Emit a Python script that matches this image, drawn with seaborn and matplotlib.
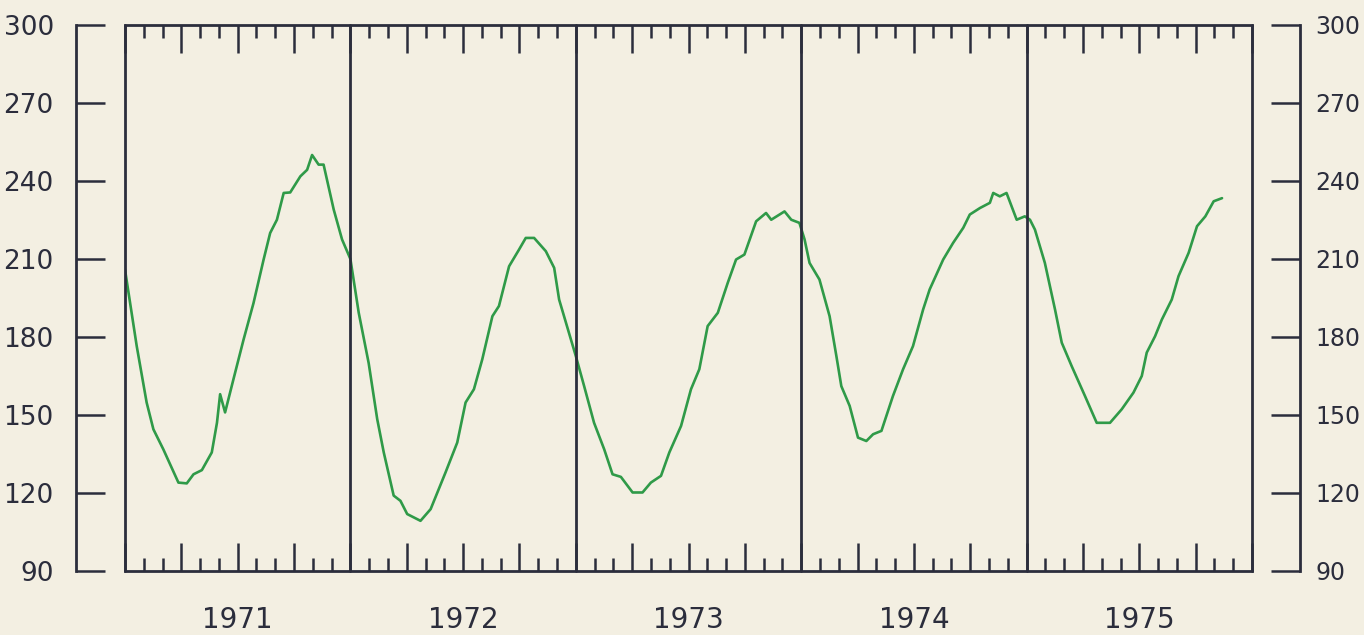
import numpy as np
import pandas as pd
import matplotlib
matplotlib.use("Agg")
import matplotlib.pyplot as plt
import seaborn as sns
from matplotlib.ticker import FixedLocator, FixedFormatter

# --- data (decimal year, value) ---
anos = [1971, 1972, 1973, 1974, 1975]

tempo = [
    1971.000, 1971.052, 1971.096, 1971.126, 1971.170, 1971.237, 1971.274, 1971.304,
    1971.341, 1971.385, 1971.408, 1971.422, 1971.444, 1971.481, 1971.526, 1971.570,
    1971.615, 1971.644, 1971.674, 1971.704, 1971.733, 1971.778, 1971.808, 1971.830,
    1971.859, 1971.881, 1971.926, 1971.963, 1972.000,
    1972.037, 1972.081, 1972.119, 1972.148, 1972.192, 1972.222, 1972.252, 1972.311,
    1972.356, 1972.422, 1972.474, 1972.511, 1972.548, 1972.585, 1972.630, 1972.659,
    1972.704, 1972.748, 1972.778, 1972.815, 1972.867, 1972.904, 1972.926, 1973.000,
    1973.037, 1973.081, 1973.126, 1973.163, 1973.200, 1973.252, 1973.296, 1973.333,
    1973.378, 1973.415, 1973.467, 1973.511, 1973.548, 1973.585, 1973.630, 1973.674,
    1973.711, 1973.748, 1973.800, 1973.844, 1973.867, 1973.926, 1973.956, 1973.992,
    1974.015, 1974.037, 1974.081, 1974.126, 1974.156, 1974.178, 1974.215, 1974.252,
    1974.289, 1974.319, 1974.356, 1974.407, 1974.452, 1974.496, 1974.541, 1974.570,
    1974.630, 1974.674, 1974.719, 1974.748, 1974.793, 1974.837, 1974.852, 1974.881,
    1974.911, 1974.956, 1974.992,
    1975.015, 1975.037, 1975.081, 1975.126, 1975.156, 1975.200, 1975.259, 1975.311,
    1975.370, 1975.422, 1975.474, 1975.511, 1975.533, 1975.570, 1975.600, 1975.644,
    1975.674, 1975.719, 1975.756, 1975.793, 1975.830, 1975.867,
]

valor = [
    205.9, 176.5, 154.8, 144.5, 136.8, 124.0, 123.7, 127.2,
    128.8, 135.6, 147.0, 158.0, 151.0, 163.7, 179.0, 193.0,
    209.8, 220.0, 225.1, 235.4, 235.6, 241.8, 244.3, 250.0,
    246.3, 246.3, 229.0, 217.5, 210.0,
    189.3, 170.0, 148.4, 135.6, 119.0, 117.0, 111.9, 109.3,
    113.8, 127.9, 139.4, 154.8, 159.9, 171.4, 188.0, 191.9,
    207.2, 213.6, 218.1, 218.1, 213.0, 206.6, 194.4, 172.7,
    161.1, 147.0, 136.8, 127.2, 126.2, 120.2, 120.2, 124.0,
    126.6, 135.6, 145.8, 159.9, 167.6, 184.2, 189.3, 200.8,
    209.8, 211.7, 224.5, 227.7, 225.1, 228.3, 225.1, 223.9,
    217.5, 208.5, 202.1, 188.0, 172.7, 161.1, 153.5, 141.3,
    140.0, 142.6, 143.9, 157.3, 167.6, 176.5, 190.6, 198.3,
    209.8, 216.2, 222.0, 227.1, 229.6, 231.6, 235.4, 234.1,
    235.4, 225.1, 226.4,
    225.1, 221.3, 208.5, 190.6, 177.8, 168.8, 157.3, 147.0,
    147.0, 152.2, 158.6, 165.0, 174.0, 180.3, 186.7, 194.4,
    203.4, 212.4, 222.6, 226.4, 232.2, 233.4,
]

y_ticks = [90, 120, 150, 180, 210, 240, 270, 300]

df = pd.DataFrame({"tempo": tempo, "valor": valor})

# --- style ---
sns.set_style("ticks")
papel = "#f3efe2"
tinta = "#2b2d3c"
verde = "#2f9a48"
plt.rcParams["font.family"] = ["DejaVu Sans"]

W, H = 1364, 635
fig = plt.figure(figsize=(W / 100, H / 100), dpi=100, facecolor=papel)
ax = fig.add_axes([125 / W, 1 - 571 / H, (1252 - 125) / W, (571 - 25) / H])
ax.set_facecolor(papel)

sns.lineplot(data=df, x="tempo", y="valor", ax=ax, color=verde, linewidth=1.9, sort=False)

ax.set_xlim(anos[0], anos[-1] + 1)
ax.set_ylim(90, 300)
ax.set_xlabel("")
ax.set_ylabel("")

# year separators + box sides
for a in anos + [anos[-1] + 1]:
    ax.axvline(a, color=tinta, linewidth=2.0, clip_on=False, zorder=3)

# x ticks: quarters long, months short, year labels at mid-year
quartos = sorted(set(a + q / 4 for a in anos for q in range(5)))
meses = [a + m / 12 for a in anos for m in range(12)]
rotulos = [str(int(q)) if abs(q - int(q) - 0.5) < 1e-6 else "" for q in quartos]
ax.xaxis.set_major_locator(FixedLocator(quartos))
ax.xaxis.set_major_formatter(FixedFormatter(rotulos))
ax.xaxis.set_minor_locator(FixedLocator(meses))
ax.tick_params(axis="x", which="both", direction="in", top=True, bottom=True,
               color=tinta, width=1.8, labelsize=20, labelcolor=tinta, pad=25)
ax.tick_params(axis="x", which="major", length=20)
ax.tick_params(axis="x", which="minor", length=9.5)

# left y axis detached from box
ax.spines["left"].set_position(("outward", 35.3))
ax.spines["right"].set_visible(False)
for s in ["left", "top", "bottom"]:
    ax.spines[s].set_color(tinta)
    ax.spines[s].set_linewidth(2.0)
ax.set_yticks(y_ticks)
ax.tick_params(axis="y", direction="in", length=21, width=1.8, color=tinta,
               labelsize=19, labelcolor=tinta, pad=16)

# right y axis detached from box
ax2 = ax.twinx()
ax2.set_ylim(90, 300)
ax2.set_yticks(y_ticks)
for s in ["left", "top", "bottom"]:
    ax2.spines[s].set_visible(False)
ax2.spines["right"].set_position(("outward", 34.6))
ax2.spines["right"].set_color(tinta)
ax2.spines["right"].set_linewidth(2.0)
ax2.tick_params(axis="y", direction="in", length=21, width=1.8, color=tinta,
                labelsize=17, labelcolor=tinta, pad=11)

fig.savefig("out.png", dpi=100, facecolor=papel)
